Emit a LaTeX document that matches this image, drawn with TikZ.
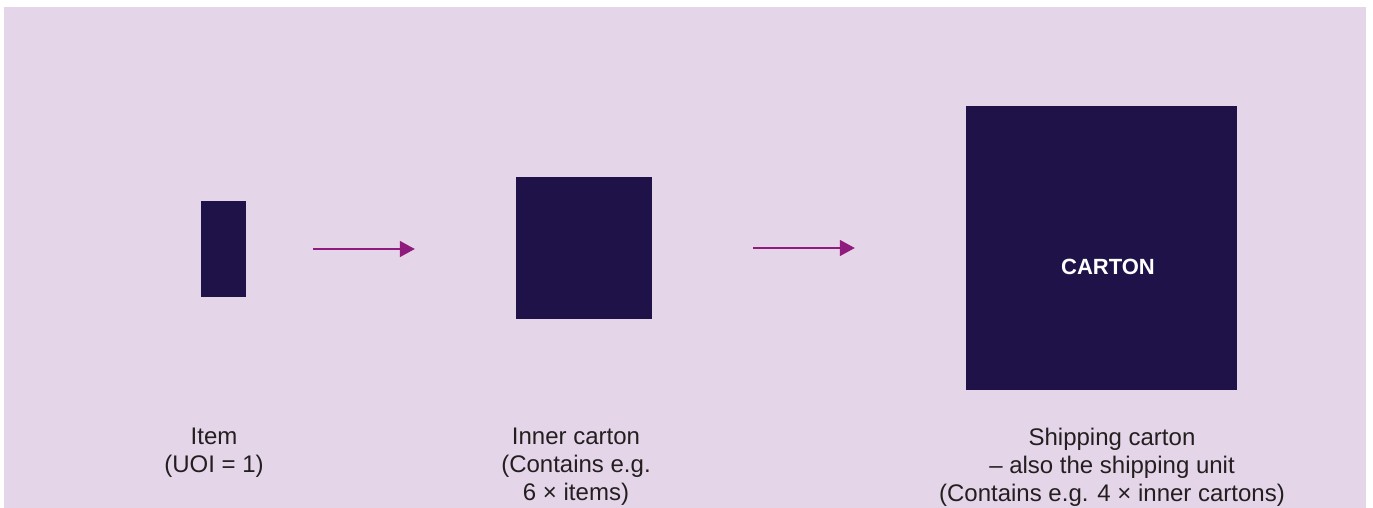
\documentclass[tikz,border=0pt]{standalone}
\usepackage{fontspec}
\setmainfont{Liberation Sans}
\usepackage{tikz}
\usetikzlibrary{arrows.meta}
\definecolor{bgpink}{HTML}{E5D5E8}
\definecolor{boxblue}{HTML}{1E1248}
\definecolor{arrowpurple}{HTML}{8F1B7D}
\definecolor{textgray}{HTML}{231F20}

\begin{document}
\begin{tikzpicture}[x=1pt,y=-1pt,
    box/.style={fill=boxblue,draw=none,inner sep=0pt},
    lbl/.style={align=center,anchor=north,inner sep=0pt,text=textgray,
      font=\fontsize{24}{28}\selectfont},
    flow/.style={-{Triangle[length=15pt,width=16pt]},draw=arrowpurple,
      fill=arrowpurple,line width=1.5pt}]
      \useasboundingbox (0,0) rectangle (1373,508);
      \fill[bgpink] (4,7) rectangle (1366,508);
      % boxes
      \node[box,minimum width=45pt,minimum height=96pt] (1) at (223.5,249) {};
      \node[box,minimum width=136pt,minimum height=142pt] (2) at (584,248) {};
      \node[box,minimum width=271pt,minimum height=284pt] (3) at (1101.5,248) {};
      \node[text=white,inner sep=0pt,font=\bfseries\fontsize{22}{26}\selectfont]
        (3t) at (1108,267) {CARTON};
      % labels
      \node[lbl] (1l) at (214,428) {Item\\(UOI = 1)};
      \node[lbl] (2l) at (576,428) {Inner carton\\(Contains e.g.\\6 × items)};
      \node[lbl] (3l) at (1112,428) {Shipping carton\\– also the shipping unit\\(Contains e.g. 4 × inner cartons)};
      % arrows
      \draw[flow,shorten <=67pt,shorten >=101pt] (1.east) -- (1.east -| 2.west);
      \draw[flow,shorten <=101pt,shorten >=111pt] (2.east) -- (2.east -| 3.west);
    \end{tikzpicture}
\end{document}
